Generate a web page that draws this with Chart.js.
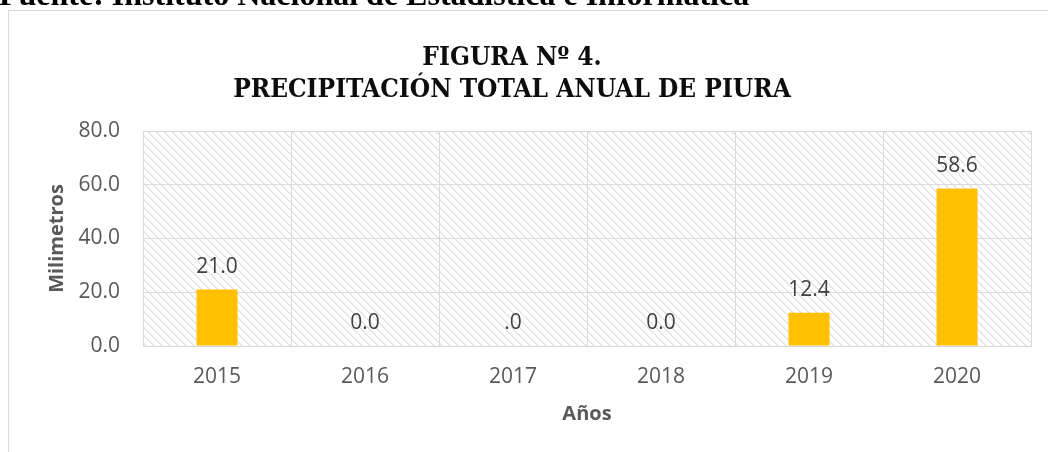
<!DOCTYPE html>
<html>
<head>
<meta charset="utf-8">
<script src="https://cdn.jsdelivr.net/npm/chart.js@4"></script>
<style>
  html, body { margin: 0; padding: 0; background: #fff; }
  #wrap { position: relative; width: 1048px; height: 452px; }
</style>
</head>
<body>
<div id="wrap"><canvas id="chart" width="1048" height="452"></canvas></div>
<script>
// data
const years = ['2015', '2016', '2017', '2018', '2019', '2020'];
const rainfall = [21.0, 0.0, 0.0, 0.0, 12.4, 58.6];
const valueLabels = ['21.0', '0.0', '.0', '0.0', '12.4', '58.6'];
const titleLines = ['FIGURA Nº 4.', 'PRECIPITACIÓN TOTAL ANUAL DE PIURA'];
const sourceNote = 'Fuente: Instituto Nacional de Estadística e Informática';

const GRID = '#d9d9d9';

function makeHatch() {
  const tile = document.createElement('canvas');
  tile.width = 8;
  tile.height = 8;
  const t = tile.getContext('2d');
  t.fillStyle = '#fff';
  t.fillRect(0, 0, 8, 8);
  for (let y = 0; y < 8; y++) {
    t.fillStyle = '#dedede';
    t.fillRect(y % 8, y, 1, 1);
    t.fillStyle = '#ececec';
    t.fillRect((y + 1) % 8, y, 1, 1);
  }
  return tile;
}

// page frame, hatched plot background, titles
const decorPlugin = {
  id: 'decor',
  beforeDraw(chart) {
    const { ctx, chartArea } = chart;
    ctx.save();
    ctx.fillStyle = '#fff';
    ctx.fillRect(0, 0, chart.width, chart.height);

    ctx.fillStyle = ctx.createPattern(makeHatch(), 'repeat');
    ctx.fillRect(chartArea.left, chartArea.top, chartArea.right - chartArea.left, chartArea.bottom - chartArea.top);

    ctx.strokeStyle = GRID;
    ctx.lineWidth = 1;
    ctx.beginPath();
    ctx.moveTo(8.5, chart.height);
    ctx.lineTo(8.5, 10.5);
    ctx.lineTo(chart.width, 10.5);
    ctx.stroke();
    ctx.restore();
  },
  afterDraw(chart) {
    const { ctx } = chart;
    ctx.save();
    ctx.fillStyle = '#000';
    ctx.textAlign = 'left';
    ctx.textBaseline = 'alphabetic';
    ctx.font = 'bold 32px "Liberation Serif", serif';
    ctx.fillText(sourceNote, -1, 5);

    ctx.textAlign = 'center';
    ctx.fillStyle = '#0d0d0d';
    ctx.font = 'bold 26px "DejaVu Serif Condensed", "Liberation Serif", serif';
    ctx.fillText(titleLines[0], 512, 65);
    ctx.fillText(titleLines[1], 512, 97);
    ctx.restore();
  }
};

// value labels above the bars
const valueLabelPlugin = {
  id: 'valueLabels',
  afterDatasetsDraw(chart) {
    const { ctx } = chart;
    const meta = chart.getDatasetMeta(0);
    ctx.save();
    ctx.fillStyle = '#404040';
    ctx.font = '21px "Open Sans", sans-serif';
    ctx.textAlign = 'center';
    ctx.textBaseline = 'alphabetic';
    meta.data.forEach((bar, i) => {
      ctx.fillText(valueLabels[i], bar.x, bar.y - 17);
    });
    ctx.restore();
  }
};

new Chart(document.getElementById('chart'), {
  type: 'bar',
  data: {
    labels: years,
    datasets: [{
      label: 'Milimetros',
      data: rainfall,
      backgroundColor: '#ffc000',
      borderWidth: 0,
      categoryPercentage: 1,
      barPercentage: 0.277
    }]
  },
  options: {
    responsive: false,
    animation: false,
    layout: { padding: { left: 0, right: 17, top: 131, bottom: 0 } },
    plugins: {
      legend: { display: false },
      tooltip: { enabled: false },
      title: { display: false }
    },
    scales: {
      x: {
        afterFit(scale) { scale.height = 106; },
        grid: { color: GRID, offset: true, drawTicks: false },
        border: { color: GRID },
        ticks: {
          color: '#595959',
          padding: 18,
          font: { family: 'Open Sans', size: 21 }
        },
        title: {
          display: true,
          text: 'Años',
          color: '#595959',
          font: { family: 'Open Sans', size: 20, weight: 'bold' },
          padding: { top: 0, bottom: 26 }
        }
      },
      y: {
        min: 0,
        max: 80,
        afterFit(scale) { scale.width = 143; },
        grid: { color: GRID, drawTicks: false },
        border: { display: false },
        ticks: {
          stepSize: 20,
          color: '#595959',
          padding: 23,
          font: { family: 'Open Sans', size: 21 },
          callback: v => v.toFixed(1)
        },
        title: {
          display: true,
          text: 'Milimetros',
          color: '#595959',
          font: { family: 'Open Sans', size: 20, weight: 'bold' },
          padding: { top: 45, bottom: 0 }
        }
      }
    }
  },
  plugins: [decorPlugin, valueLabelPlugin]
});
</script>
</body>
</html>
